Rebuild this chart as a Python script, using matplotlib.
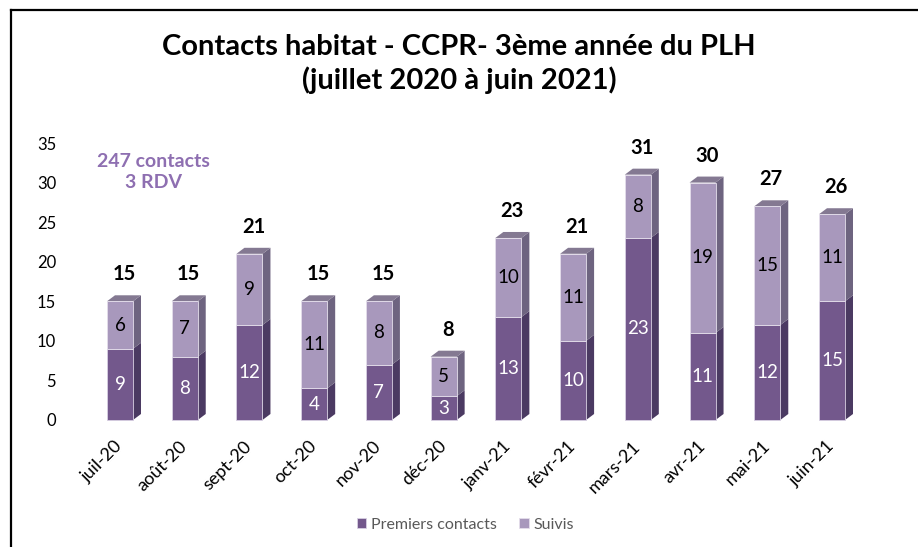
import matplotlib.pyplot as plt
from matplotlib.patches import Polygon
from matplotlib.lines import Line2D
import numpy as np

plt.rcParams['font.family'] = ['Lato', 'DejaVu Sans']

# Monthly data, July 2020 -> June 2021
months = ['juil-20', 'août-20', 'sept-20', 'oct-20', 'nov-20', 'déc-20',
          'janv-21', 'févr-21', 'mars-21', 'avr-21', 'mai-21', 'juin-21']
premiers = [9, 8, 12, 4, 7, 3, 13, 10, 23, 11, 12, 15]
suivis = [6, 7, 9, 11, 8, 5, 10, 11, 8, 19, 15, 11]

# colours: front, side, top
c_prem = ('#73588c', '#4b3a62', '#7e6a96')
c_suiv = ('#a898bc', '#6e6480', '#847992')

W = 918
H = 547
fig = plt.figure(figsize=(W / 100, H / 100), dpi=100)

# axes placement in pixels: 0 -> 420, 35 -> 143
x0_px, x1_px = 70, 890
y0_px, y1_px = 420, 143
ax = fig.add_axes([x0_px / W, 1 - y0_px / H, (x1_px - x0_px) / W, (y0_px - y1_px) / H])

px_per_cat = (832 - 120) / 11.0
ax.set_xlim(-(120 - x0_px) / px_per_cat, 11 + (x1_px - 832) / px_per_cat)
ax.set_ylim(0, 35)

x = np.arange(len(months))
w = 26 / px_per_cat
dx = 8 / px_per_cat
dy = 6 / ((y0_px - y1_px) / 35.0)


def side_face(xc, bottom, top, color):
    pts = [(xc + w / 2, bottom), (xc + w / 2 + dx, bottom + dy),
           (xc + w / 2 + dx, top + dy), (xc + w / 2, top)]
    ax.add_patch(Polygon(pts, closed=True, facecolor=color, edgecolor='none',
                         clip_on=False, zorder=2))


def top_face(xc, top, color):
    pts = [(xc - w / 2, top), (xc - w / 2 + dx, top + dy),
           (xc + w / 2 + dx, top + dy), (xc + w / 2, top)]
    ax.add_patch(Polygon(pts, closed=True, facecolor=color, edgecolor='none',
                         clip_on=False, zorder=2))


b1 = ax.bar(x, premiers, width=w, color=c_prem[0], edgecolor='#d8d0e2',
            linewidth=0.6, label='Premiers contacts', zorder=3, clip_on=False)
b2 = ax.bar(x, suivis, width=w, bottom=premiers, color=c_suiv[0],
            edgecolor='#e4deeb', linewidth=0.6, label='Suivis', zorder=3,
            clip_on=False)

for i, xc in enumerate(x):
    p, s = premiers[i], suivis[i]
    total = p + s
    side_face(xc, 0, p, c_prem[1])
    side_face(xc, p, total, c_suiv[1])
    top_face(xc, total, c_suiv[2])
    ax.text(xc, p / 2, str(p), ha='center', va='center', color='white',
            fontsize=13.5, zorder=4)
    ax.text(xc, p + s / 2, str(s), ha='center', va='center', color='black',
            fontsize=13.5, zorder=4)
    ax.text(xc + dx / 2, total + 3.4, str(total), ha='center', va='center',
            color='black', fontsize=14.5, fontweight='bold', zorder=4)

ax.text(0.52, 31.3, '247 contacts\n3 RDV', ha='center', va='center',
        color='#8e6fb1', fontsize=14, fontweight='bold', linespacing=1.3)

ax.set_yticks(range(0, 36, 5))
ax.set_xticks(x)
ax.set_xticklabels(months, rotation=45, ha='right', va='center',
                   rotation_mode='anchor', fontsize=13)
ax.tick_params(axis='x', length=0, pad=17)
ax.tick_params(axis='y', length=0, pad=10, labelsize=12)
for sp in ax.spines.values():
    sp.set_visible(False)

fig.text(0.5, 1 - 47 / H, 'Contacts habitat - CCPR- 3ème année du PLH',
         ha='center', va='center', fontsize=21, fontweight='bold')
fig.text(0.5, 1 - 80 / H, '(juillet 2020 à juin 2021)',
         ha='center', va='center', fontsize=21, fontweight='bold')

fig.legend(handles=[b1, b2], loc='center', bbox_to_anchor=(0.507, 1 - 525 / H),
           ncol=2, frameon=False, fontsize=11.5, handlelength=0.6,
           handleheight=0.6, handletextpad=0.3, columnspacing=1.4,
           labelcolor='#595959')

# outer frame: only left and top edges fall inside the image
fig.add_artist(Line2D([11 / W, 11 / W], [0, 1 - 10 / H], color='black', lw=1.6))
fig.add_artist(Line2D([11 / W, 1], [1 - 10 / H, 1 - 10 / H], color='black', lw=1.6))

fig.savefig('out.png', dpi=100)
